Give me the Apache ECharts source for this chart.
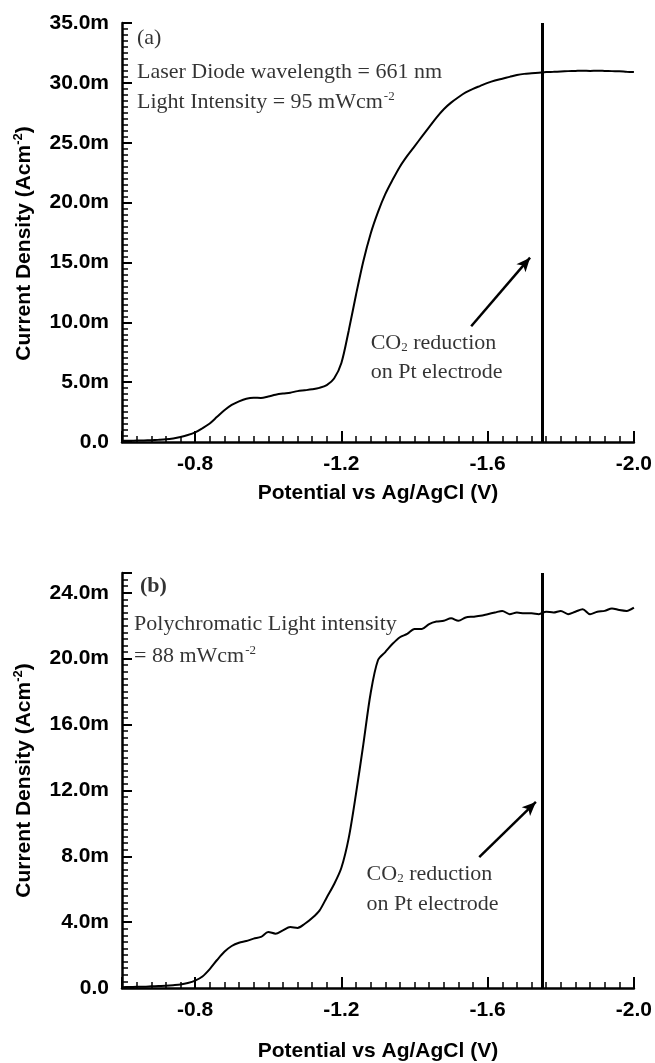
<!DOCTYPE html>
<html>
<head>
<meta charset="utf-8">
<style>
  html, body { margin: 0; padding: 0; background: #fff; }
  #chart { width: 655px; height: 1063px; }
</style>
<script src="https://cdn.jsdelivr.net/npm/echarts@6/dist/echarts.min.js"></script>
</head>
<body>
<div id="chart"></div>
<script>
// Potential sweep (V vs Ag/AgCl), shared by both scans
const potential = [
  -0.60, -0.62, -0.64, -0.66, -0.68, -0.70, -0.72, -0.74, -0.76, -0.78,
  -0.80, -0.82, -0.84, -0.86, -0.88, -0.90, -0.92, -0.94, -0.96, -0.98,
  -1.00, -1.02, -1.04, -1.06, -1.08, -1.10, -1.12, -1.14, -1.16, -1.18,
  -1.20, -1.22, -1.24, -1.26, -1.28, -1.30, -1.32, -1.34, -1.36, -1.38,
  -1.40, -1.42, -1.44, -1.46, -1.48, -1.50, -1.52, -1.54, -1.56, -1.58,
  -1.60, -1.62, -1.64, -1.66, -1.68, -1.70, -1.72, -1.74, -1.76, -1.78,
  -1.80, -1.82, -1.84, -1.86, -1.88, -1.90, -1.92, -1.94, -1.96, -1.98,
  -2.00
];

// (a) laser diode, 661 nm, 95 mW/cm2 — current density in mA/cm2
const currentLaser = [
  0.10, 0.10, 0.12, 0.13, 0.15, 0.18, 0.22, 0.30, 0.42, 0.58,
  0.80, 1.15, 1.55, 2.10, 2.65, 3.10, 3.40, 3.62, 3.70, 3.68,
  3.80, 3.95, 4.05, 4.12, 4.25, 4.32, 4.40, 4.52, 4.75, 5.30,
  6.60, 9.30, 12.3, 15.1, 17.4, 19.2, 20.7, 21.9, 23.0, 23.9,
  24.7, 25.5, 26.3, 27.1, 27.8, 28.35, 28.8, 29.2, 29.5, 29.75,
  30.0, 30.2, 30.35, 30.5, 30.65, 30.75, 30.8, 30.85, 30.9, 30.92,
  30.95, 30.98, 31.0, 31.02, 31.0, 31.02, 31.0, 30.98, 30.97, 30.93,
  30.9
];

// (b) polychromatic light, 88 mW/cm2 — current density in mA/cm2
const currentPoly = [
  0.05, 0.06, 0.07, 0.08, 0.10, 0.12, 0.14, 0.17, 0.21, 0.30,
  0.45, 0.70, 1.15, 1.70, 2.20, 2.55, 2.75, 2.85, 3.00, 3.10,
  3.40, 3.30, 3.50, 3.70, 3.65, 3.90, 4.25, 4.70, 5.50, 6.30,
  7.30, 9.10, 11.8, 14.8, 17.9, 19.9, 20.4, 20.9, 21.3, 21.5,
  21.8, 21.8, 22.1, 22.25, 22.3, 22.45, 22.3, 22.5, 22.55, 22.6,
  22.7, 22.8, 22.9, 22.7, 22.8, 22.75, 22.75, 22.7, 22.85, 22.8,
  22.9, 22.7, 22.85, 23.0, 22.7, 22.85, 22.9, 23.05, 22.95, 22.9,
  23.1
];

// Potential of the CO2 reduction marker on the Pt electrode
const markerPotential = -1.75;

// Axis ticks
const xTicks = [-2.0, -1.6, -1.2, -0.8];
const yTicksLaser = [0, 5, 10, 15, 20, 25, 30, 35];
const yTicksPoly = [0, 4, 8, 12, 16, 20, 24];

// Annotation texts
const panelLabels = ['(a)', '{b|(b)}'];
const laserNotes = ['Laser Diode wavelength = 661 nm', 'Light Intensity = 95 mWcm{sup|-2}'];
const polyNotes = ['Polychromatic Light intensity', '= 88 mWcm{sup|-2}'];
const co2Notes = ['CO{sub|2} reduction', 'on Pt electrode'];

const SANS = '"Liberation Sans", Arial, sans-serif';
const SERIF = '"Liberation Serif", "Times New Roman", serif';

const pair = (xs, ys) => xs.map((x, i) => [x, ys[i]]);

const noteRich = {
  sup: { fontFamily: SERIF, fontSize: 13, color: '#000', verticalAlign: 'top', lineHeight: 24, padding: [0, 0, 0, 1] },
  sub: { fontFamily: SERIF, fontSize: 13, color: '#000', verticalAlign: 'bottom', lineHeight: 16 },
  b: { fontFamily: SERIF, fontSize: 22, color: '#000', fontWeight: 'bold' }
};

function xAxisOf(gridIndex, gap) {
  return {
    type: 'value', gridIndex, inverse: true,
    min: -2.0, max: -0.6, interval: 0.4,
    name: 'Potential vs Ag/AgCl (V)', nameLocation: 'middle', nameGap: gap,
    nameTextStyle: { fontFamily: SANS, fontWeight: 'bold', fontSize: 21, color: '#000' },
    axisLine: { show: true, onZero: false, lineStyle: { color: '#000', width: 2.5 } },
    axisTick: { show: true, inside: true, length: 11, lineStyle: { color: '#000', width: 2 } },
    minorTick: { show: true, splitNumber: 10, length: 6, lineStyle: { color: '#000', width: 1.5 } },
    splitLine: { show: false },
    axisLabel: {
      margin: 12, fontFamily: SANS, fontWeight: 'bold', fontSize: 21, color: '#000',
      formatter: v => xTicks.some(t => Math.abs(t - v) < 1e-6) ? v.toFixed(1) : ''
    }
  };
}

function yAxisOf(gridIndex, max, interval, ticks, pad) {
  return {
    type: 'value', gridIndex, min: 0, max, interval,
    name: 'Current Density (Acm{sup|-2})', nameLocation: 'middle', nameGap: 85,
    nameTextStyle: {
      fontFamily: SANS, fontWeight: 'bold', fontSize: 21, color: '#000', padding: pad,
      rich: { sup: { fontFamily: SANS, fontWeight: 'bold', fontSize: 13, color: '#000', verticalAlign: 'top', lineHeight: 25 } }
    },
    axisLine: { show: true, onZero: false, lineStyle: { color: '#000', width: 2.5 } },
    axisTick: { show: true, inside: true, length: 10, lineStyle: { color: '#000', width: 2 } },
    minorTick: { show: true, splitNumber: 10, length: 6, lineStyle: { color: '#000', width: 1.5 } },
    splitLine: { show: false },
    axisLabel: {
      margin: 13, fontFamily: SANS, fontWeight: 'bold', fontSize: 21, color: '#000',
      formatter: v => {
        if (!ticks.some(t => Math.abs(t - v) < 1e-6)) return '';
        return v === 0 ? '0.0' : v.toFixed(1) + 'm';
      }
    }
  };
}

function curveSeries(idx, values, top, arrowFrom, arrowTo) {
  return {
    type: 'line', xAxisIndex: idx, yAxisIndex: idx,
    data: pair(potential, values),
    showSymbol: false, symbol: 'none', smooth: 0.3,
    lineStyle: { color: '#000', width: 2 },
    silent: true, animation: false,
    markLine: {
      silent: true, animation: false,
      label: { show: false },
      data: [
        [
          { coord: [markerPotential, 0], symbol: 'none', lineStyle: { color: '#000', width: 3, type: 'solid' } },
          { coord: [markerPotential, top], symbol: 'none' }
        ],
        [
          { coord: arrowFrom, symbol: 'none', lineStyle: { color: '#000', width: 2.5, type: 'solid' } },
          { coord: arrowTo, symbol: 'arrow', symbolSize: [9, 14] }
        ]
      ]
    }
  };
}

function notesSeries(idx, items) {
  return {
    type: 'scatter', xAxisIndex: idx, yAxisIndex: idx,
    symbolSize: 0, silent: true, animation: false,
    label: {
      show: true, position: 'right', distance: 0,
      fontFamily: SERIF, fontSize: 22, color: '#000', rich: noteRich
    },
    data: items.map(it => ({ value: it.at, label: { formatter: it.text } }))
  };
}

const chart = echarts.init(document.getElementById('chart'), null, { renderer: 'canvas' });
chart.setOption({
  backgroundColor: '#fff',
  animation: false,
  grid: [
    { left: 122, right: 19, top: 23, height: 419 },
    { left: 122, right: 19, top: 573, height: 417 }
  ],
  xAxis: [xAxisOf(0, 41), xAxisOf(1, 53)],
  yAxis: [
    yAxisOf(0, 35, 5, yTicksLaser, [0, 22, 0, 0]),
    yAxisOf(1, 25.2, 4, yTicksPoly, [0, 0, 0, 0])
  ],
  series: [
    curveSeries(0, currentLaser, 35, [-1.555, 9.67], [-1.716, 15.4]),
    curveSeries(1, currentPoly, 25.2, [-1.577, 7.95], [-1.732, 11.3]),
    notesSeries(0, [
      { at: [-0.641, 33.75], text: panelLabels[0] },
      { at: [-0.641, 30.9], text: laserNotes[0] },
      { at: [-0.641, 28.4], text: laserNotes[1] },
      { at: [-1.280, 8.27], text: co2Notes[0] },
      { at: [-1.280, 5.85], text: co2Notes[1] }
    ]),
    notesSeries(1, [
      { at: [-0.649, 24.37], text: panelLabels[1] },
      { at: [-0.633, 22.08], text: polyNotes[0] },
      { at: [-0.633, 20.16], text: polyNotes[1] },
      { at: [-1.269, 6.92], text: co2Notes[0] },
      { at: [-1.269, 5.11], text: co2Notes[1] }
    ])
  ]
});
</script>
</body>
</html>
